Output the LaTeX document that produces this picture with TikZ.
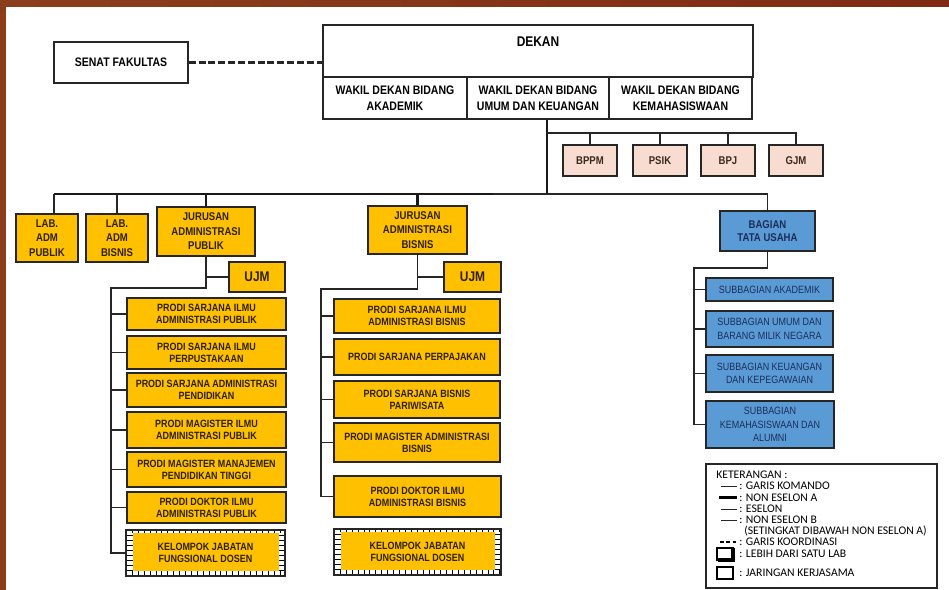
\documentclass[tikz,border=0pt]{standalone}
\usepackage{fontspec}
\setmainfont{Liberation Sans}[FakeStretch=0.85]
\newfontfamily\legendfont{Carlito}

\definecolor{framebrown}{HTML}{8B3E1C}
\definecolor{framered}{HTML}{7E2A14}
\definecolor{orgfill}{HTML}{FFC000}
\definecolor{orgtext}{HTML}{2E2200}
\definecolor{pinkfill}{HTML}{F8DCD0}
\definecolor{unittext}{HTML}{3A2A20}
\definecolor{bluefill}{HTML}{5B9BD5}
\definecolor{navytext}{HTML}{1B2E5A}
\definecolor{linegray}{HTML}{262626}

\begin{document}
\begin{tikzpicture}
    [x=0.025cm,y=-0.025cm,inner sep=0pt,
     wh/.style 2 args={minimum width=#1*0.025cm,minimum height=#2*0.025cm},
     box/.style={draw=linegray,line width=1pt,align=center},
     whitebox/.style={box,fill=white,font=\fontsize{8.8}{11.3}\selectfont\bfseries},
     unitbox/.style={box,fill=pinkfill,text=unittext,font=\fontsize{8}{10}\selectfont\bfseries},
     orgbox/.style={box,fill=orgfill,text=orgtext,font=\fontsize{8}{10.3}\selectfont\bfseries},
     prodibox/.style={orgbox,font=\fontsize{7.5}{8.6}\selectfont\bfseries},
     ujmbox/.style={orgbox,font=\fontsize{10}{12}\selectfont\bfseries},
     kjfbox/.style={box,line width=1.3pt,fill=white,text=orgtext,
       font=\fontsize{7.5}{9}\selectfont\bfseries,
       path picture={
         \fill [orgfill] ([xshift=0.175cm,yshift=-0.075cm]path picture bounding box.north west)
           rectangle ([xshift=-0.15cm,yshift=0.125cm]path picture bounding box.south east);
         \draw [black,line width=0.075cm,dash pattern=on 0.6pt off 3.6pt]
           ([yshift=-0.0375cm]path picture bounding box.north west)
           -- ([yshift=-0.0375cm]path picture bounding box.north east);
         \draw [black,line width=0.125cm,dash pattern=on 0.6pt off 3.6pt]
           ([yshift=0.0625cm]path picture bounding box.south west)
           -- ([yshift=0.0625cm]path picture bounding box.south east);
         \draw [black,line width=0.175cm,dash pattern=on 0.6pt off 3pt]
           ([xshift=0.0875cm]path picture bounding box.north west)
           -- ([xshift=0.0875cm]path picture bounding box.south west);
         \draw [black,line width=0.15cm,dash pattern=on 0.6pt off 3pt]
           ([xshift=-0.075cm]path picture bounding box.north east)
           -- ([xshift=-0.075cm]path picture bounding box.south east);
       }},
     bluebox/.style={box,fill=bluefill,text=navytext,font=\fontsize{7.5}{9.6}\selectfont},
     tubox/.style={bluebox,font=\fontsize{8}{9.5}\selectfont\bfseries},
     legend/.style={anchor=west,text=black,font=\legendfont\fontsize{8.3}{9}\selectfont},
     thickline/.style={draw=black!90,line width=2.1pt},
     thinline/.style={draw=linegray,line width=0.9pt},
     coordline/.style={draw=linegray,line width=1.5pt,dash pattern=on 5pt off 2pt}]

    % page and frame:
    \useasboundingbox (0, 0) rectangle (949, 590);
    \fill [white] (0, 0) rectangle (949, 590);
    \shade [left color=framebrown, right color=framered] (0, 0) rectangle (949, 7);
    \fill [framebrown] (0, 0) rectangle (6, 590);

    % senat and dekan:
    \node (senat) at (121, 62.5) [whitebox,wh={134}{41}] {SENAT FAKULTAS};
    \node (dekan) at (538, 51) [box,fill=white,wh={430}{52}] {};
    \node (dekanlabel) at (538, 42) [font=\fontsize{10}{12}\selectfont\bfseries] {DEKAN};

    % wakil dekan:
    \node (wd1) at (395, 98) [whitebox,wh={144}{42}] {WAKIL DEKAN BIDANG\\AKADEMIK};
    \node (wd2) at (538, 98) [whitebox,wh={142}{42}] {WAKIL DEKAN BIDANG\\UMUM DAN KEUANGAN};
    \node (wd3) at (680.5, 98) [whitebox,wh={143}{42}] {WAKIL DEKAN BIDANG\\KEMAHASISWAAN};

    % units under wakil dekan:
    \node (bppm) at (590, 160.5) [unitbox,wh={54}{31}] {BPPM};
    \node (psik) at (660, 160.5) [unitbox,wh={54}{31}] {PSIK};
    \node (bpj) at (728, 160.5) [unitbox,wh={54}{31}] {BPJ};
    \node (gjm) at (796, 160.5) [unitbox,wh={54}{31}] {GJM};

    % labs and jurusan:
    \node (lab1) at (47, 238) [orgbox,wh={62}{48}] {LAB.\\ADM\\PUBLIK};
    \node (lab2) at (117, 238) [orgbox,wh={62}{48}] {LAB.\\ADM\\BISNIS};
    \node (jap) at (206, 231.5) [orgbox,wh={98}{49}] {JURUSAN\\ADMINISTRASI\\PUBLIK};
    \node (jab) at (417.5, 230) [orgbox,wh={99}{48}] {JURUSAN\\ADMINISTRASI\\BISNIS};
    \node (ujm1) at (257, 277) [ujmbox,wh={56}{30}] {UJM};
    \node (ujm2) at (472.5, 277) [ujmbox,wh={57}{30}] {UJM};

    % prodi administrasi publik:
    \node (pp1) at (206.5, 314) [prodibox,wh={159}{32}] {PRODI SARJANA ILMU\\ADMINISTRASI PUBLIK};
    \node (pp2) at (206.5, 352.5) [prodibox,wh={159}{33}] {PRODI SARJANA ILMU\\PERPUSTAKAAN};
    \node (pp3) at (206.5, 390) [prodibox,wh={159}{34}] {PRODI SARJANA ADMINISTRASI\\PENDIDIKAN};
    \node (pp4) at (206.5, 430) [prodibox,wh={159}{36}] {PRODI MAGISTER ILMU\\ADMINISTRASI PUBLIK};
    \node (pp5) at (206.5, 469.5) [prodibox,wh={159}{35}] {PRODI MAGISTER MANAJEMEN\\PENDIDIKAN TINGGI};
    \node (pp6) at (206.5, 507.5) [prodibox,wh={159}{31}] {PRODI DOKTOR ILMU\\ADMINISTRASI PUBLIK};
    \node (kp1) at (205.5, 553) [kjfbox,wh={159}{46}] {KELOMPOK JABATAN\\FUNGSIONAL DOSEN};

    % prodi administrasi bisnis:
    \node (pb1) at (417, 316) [prodibox,wh={166}{34}] {PRODI SARJANA ILMU\\ADMINISTRASI BISNIS};
    \node (pb2) at (417, 357) [prodibox,wh={166}{36}] {PRODI SARJANA PERPAJAKAN};
    \node (pb3) at (417, 399.5) [prodibox,wh={166}{37}] {PRODI SARJANA BISNIS\\PARIWISATA};
    \node (pb4) at (417, 442.5) [prodibox,wh={166}{39}] {PRODI MAGISTER ADMINISTRASI\\BISNIS};
    \node (pb5) at (417.5, 496.5) [prodibox,wh={167}{41}] {PRODI DOKTOR ILMU\\ADMINISTRASI BISNIS};
    \node (kp2) at (417.5, 552) [kjfbox,wh={167}{46}] {KELOMPOK JABATAN\\FUNGSIONAL DOSEN};

    % tata usaha:
    \node (tu) at (767.5, 231) [tubox,wh={95}{40}] {BAGIAN\\TATA USAHA};
    \node (sb1) at (769.5, 289.5) [bluebox,wh={127}{23}] {SUBBAGIAN AKADEMIK};
    \node (sb2) at (769.5, 329) [bluebox,wh={127}{36}] {SUBBAGIAN UMUM DAN\\BARANG MILIK NEGARA};
    \node (sb3) at (769.5, 373.5) [bluebox,wh={127}{37}] {SUBBAGIAN KEUANGAN\\DAN KEPEGAWAIAN};
    \node (sb4) at (770, 424.5) [bluebox,wh={128}{47}] {SUBBAGIAN\\KEMAHASISWAAN DAN\\ALUMNI};

    % junctions:
    \coordinate (hub) at (547, 194);
    \coordinate (busl) at (54, 194);
    \coordinate (busm) at (493, 194);
    \coordinate (unitbar) at (547, 133);
    \coordinate (spl) at (111, 288);
    \coordinate (spm) at (321, 289);
    \coordinate (spr) at (694, 268);

    % connect nodes:

    \draw [coordline] (senat) -- (dekan.west |- senat);

    \draw [thickline] (hub |- wd2.south) -- (hub);
    \draw [thickline] (busl) -- (busm);
    \draw [thinline] (busm) -- (hub) -| (tu.north);

    \draw [thinline] (unitbar) -| (gjm.north);
    \draw [thinline] (bppm.north) -- (bppm.north |- unitbar);
    \draw [thinline] (psik.north) -- (psik.north |- unitbar);
    \draw [thinline] (bpj.north) -- (bpj.north |- unitbar);

    \draw [thinline] (busl |- lab1.north) -- (busl);
    \draw [thinline] (lab2.north) -- (lab2.north |- busl);
    \draw [thickline] (jap.north) -- (jap.north |- busl);
    \draw [thickline] (jab.north) -- (jab.north |- busl);

    \draw [thinline] (jap.south) |- (spl) -- (spl |- kp1.west) -- (kp1.west);
    \draw [thinline] (ujm1.west) -- (ujm1.west -| jap.south);
    \draw [thinline] (spl |- pp1.west) -- (pp1.west);
    \draw [thinline] (spl |- pp2.west) -- (pp2.west);
    \draw [thinline] (spl |- pp3.west) -- (pp3.west);
    \draw [thinline] (spl |- pp4.west) -- (pp4.west);
    \draw [thinline] (spl |- pp5.west) -- (pp5.west);
    \draw [thinline] (spl |- pp6.west) -- (pp6.west);

    \draw [thinline] (jab.south) |- (spm) -- (spm |- pb5.west) -- (pb5.west);
    \draw [thinline] (ujm2.west) -- (ujm2.west -| jab.south);
    \draw [thinline] (spm |- pb1.west) -- (pb1.west);
    \draw [thinline] (spm |- pb2.west) -- (pb2.west);
    \draw [thinline] (spm |- pb3.west) -- (pb3.west);
    \draw [thinline] (spm |- pb4.west) -- (pb4.west);

    \draw [thinline] (tu.south) |- (spr) -- (spr |- sb4.west) -- (sb4.west);
    \draw [thinline] (spr |- sb1.west) -- (sb1.west);
    \draw [thinline] (spr |- sb2.west) -- (sb2.west);
    \draw [thinline] (spr |- sb3.west) -- (sb3.west);

    % legend:
    \node (ket) at (821.5, 526) [box,line width=1.4pt,wh={231}{124}] {};
    \node (kettitle) at (716, 475) [legend] {KETERANGAN :};
    \node (lg1) at (739, 486) [legend] {: GARIS KOMANDO};
    \node (lg2) at (739, 497.5) [legend] {: NON ESELON A};
    \node (lg3) at (739, 509) [legend] {: ESELON};
    \node (lg4) at (739, 520) [legend] {: NON ESELON B};
    \node (lg5) at (744, 531) [legend] {(SETINGKAT DIBAWAH NON ESELON A)};
    \node (lg6) at (739, 542) [legend] {: GARIS KOORDINASI};
    \node (lg7) at (739, 554) [legend] {: LEBIH DARI SATU LAB};
    \node (lg8) at (739, 573) [legend] {: JARINGAN KERJASAMA};

    \draw [thinline,line width=0.7pt] (721, 486) -- (737, 486);
    \draw [line width=2.4pt] (719, 497.5) -- (737, 497.5);
    \draw [thinline,line width=0.7pt] (721, 509) -- (737, 509);
    \draw [thinline,line width=0.7pt] (721, 520) -- (737, 520);
    \draw [line width=0.8pt,dash pattern=on 2.5pt off 2pt] (720, 542) -- (737, 542);
    \draw [line width=1pt] (717, 548) rectangle (733, 560);
    \draw [line width=2.2pt] (733, 548) -- (733, 560) -- (718, 560);
    \draw [line width=1.4pt] (717, 567) rectangle (733, 579);

  \end{tikzpicture}
\end{document}
